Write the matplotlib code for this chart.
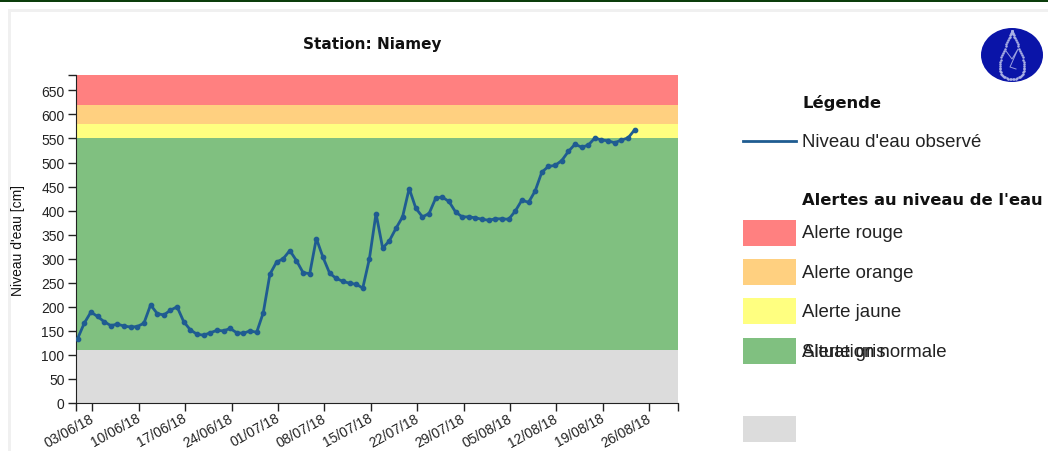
import numpy as np
import pandas as pd
import matplotlib
matplotlib.use('Agg')
import matplotlib.pyplot as plt
import matplotlib.dates as mdates
from matplotlib.patches import Ellipse, Rectangle
from matplotlib.transforms import ScaledTranslation

plt.rcParams['font.family'] = ['Liberation Sans', 'DejaVu Sans']

W, H = 1048, 452

# niveau d'eau observe (cm), un point par jour
niveau = [134, 166, 189, 180, 169, 161, 164, 160, 158, 159, 166, 204, 186, 183, 193, 200, 169,
          152, 143, 141, 146, 151, 150, 155, 146, 145, 150, 147, 188, 268, 293, 300, 317, 296,
          271, 269, 342, 303, 270, 259, 253, 249, 247, 239, 300, 394, 322, 337, 363, 387, 446,
          405, 387, 394, 426, 428, 419, 397, 387, 387, 385, 382, 380, 383, 383, 382, 399, 422,
          417, 441, 480, 492, 494, 504, 523, 538, 532, 536, 551, 547, 545, 541, 547, 551, 568]
debut = '2018-05-31 19:00'
dates = pd.date_range(debut, periods=len(niveau), freq='D')

# seuils d'alerte
seuils = [0, 111, 550, 580, 620, 682]
couleurs = ['#dcdcdc', '#80c080', '#ffff80', '#ffd080', '#ff8080']

y_ticks = list(range(0, 700, 50))
x_ticks = pd.date_range('2018-06-03', '2018-08-26', freq='7D')
x_min = pd.Timestamp('2018-05-31 12:00')
x_max = pd.Timestamp('2018-08-30 09:00')

legende_labels = ['Alerte rouge', 'Alerte orange', 'Alerte jaune', 'Situation normale']
ligne_col = '#1f5c91'

fig = plt.figure(figsize=(W / 100, H / 100), dpi=100, facecolor='white')

# calque en pixels pour le cadre, la legende et le logo
bg = fig.add_axes([0, 0, 1, 1])
bg.set_xlim(0, W)
bg.set_ylim(H, 0)
bg.axis('off')
bg.add_patch(Rectangle((0, 0), W, 3, color='#0b3d0b', lw=0))
bg.add_patch(Rectangle((8, 10), W - 8, 2.5, color='#f0f0f0', lw=0))
bg.add_patch(Rectangle((8, 10), 2.5, H - 10, color='#f0f0f0', lw=0))

# graphique
left, right, top, bottom = 75.7, 678.3, 76, 404
ax = fig.add_axes([left / W, 1 - bottom / H, (right - left) / W, (bottom - top) / H])
for i in range(len(couleurs)):
    ax.axhspan(seuils[i], seuils[i + 1], color=couleurs[i], lw=0, zorder=1)
ax.plot(dates, niveau, color=ligne_col, lw=2, marker='o', ms=3.1, zorder=3)
ax.set_xlim(x_min, x_max)
ax.set_ylim(0, seuils[-1])
ax.set_yticks(y_ticks)
ax.set_xticks(x_ticks)
ax.xaxis.set_major_formatter(mdates.DateFormatter('%d/%m/%y'))
# ticks de fin de domaine
ax.set_xticks([x_min, x_max], minor=True)
ax.set_yticks([seuils[-1]], minor=True)
ax.tick_params(which='both', length=5.5, width=1, color='#222222', labelcolor='#222222')
ax.tick_params(axis='y', labelsize=10, pad=2.5)
ax.tick_params(axis='x', labelsize=10, pad=0)
decale = ScaledTranslation(-3 / 100, 0, fig.dpi_scale_trans)
for lab in ax.get_xticklabels():
    lab.set_rotation(29)
    lab.set_ha('right')
    lab.set_rotation_mode('anchor')
    lab.set_transform(lab.get_transform() + decale)
ax.spines['top'].set_visible(False)
ax.spines['right'].set_visible(False)
ax.spines['left'].set_color('#222222')
ax.spines['bottom'].set_color('#222222')

bg.text(18.5, 240, "Niveau d'eau [cm]", rotation=90, ha='center', va='center', fontsize=10, color='#111111')
bg.text(372, 44, 'Station: Niamey', ha='center', va='center', fontsize=11, fontweight='bold', family='DejaVu Sans', color='#111111')

# legende
tx = 802
bg.text(tx, 103, 'Légende', va='center', fontsize=11.8, fontweight='bold', family='DejaVu Sans', color='#111111')
bg.plot([743, 796], [141.5, 141.5], color=ligne_col, lw=2)
bg.text(tx, 142.5, "Niveau d'eau observé", va='center', fontsize=13.4, color='#222222')
bg.text(tx, 201, "Alertes au niveau de l'eau", va='center', fontsize=11.8, fontweight='bold', family='DejaVu Sans', color='#111111')
sw_y = [220.5, 259.5, 298.5, 338.5]
txt_y = [234, 273.5, 313, 352.5]
for c, y0, ty, lab in zip(couleurs[::-1], sw_y, txt_y, legende_labels):
    bg.add_patch(Rectangle((743, y0), 53, 26, color=c, lw=0))
    bg.text(tx, ty, lab, va='center', fontsize=13.4, color='#222222')
bg.add_patch(Rectangle((743, 416.5), 53, 26, color=couleurs[0], lw=0))
bg.text(tx, 352.5, 'Alerte gris', va='center', fontsize=13.4, color='#222222')

# logo
bg.add_patch(Ellipse((1012, 56), 62, 54, color='#0a14a8', lw=0))
t = np.linspace(0, 2 * np.pi, 70)
gx = 1012 + 17 * np.sin(t) * np.sin(t / 2) ** 1.3
gy = 56 - 24 * np.cos(t) + 3 * np.sin(t) ** 2
bg.plot(gx, gy, ls='none', marker='.', ms=1.6, color='#aab0e4')
bg.plot([1006, 1012, 1018, 1010, 1016], [52, 60, 50, 68, 70], color='#9aa0e0', lw=0.7)

fig.savefig('out.png', dpi=100)
